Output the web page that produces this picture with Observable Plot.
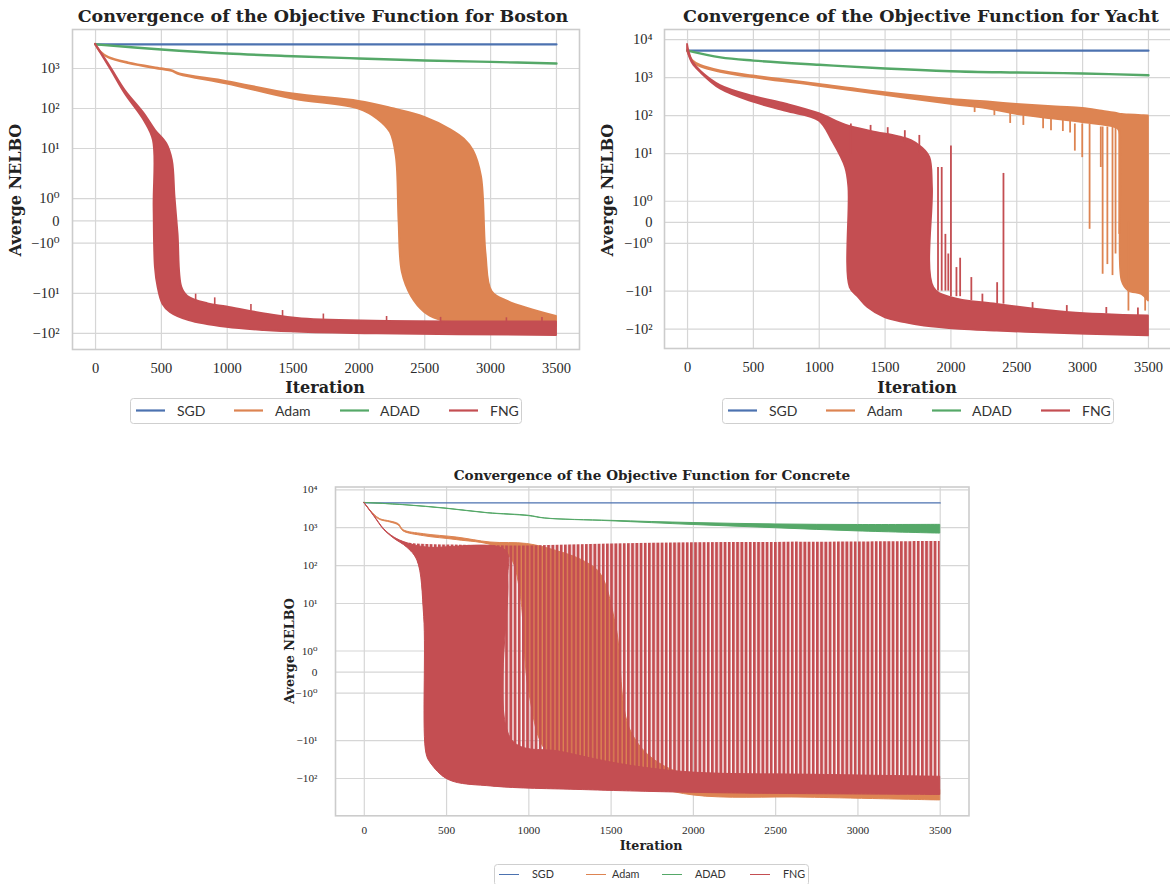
<!DOCTYPE html>
<html><head><meta charset="utf-8">
<script src="https://cdn.jsdelivr.net/npm/d3@7"></script>
<script src="https://cdn.jsdelivr.net/npm/@observablehq/plot@0.6"></script>
<style>
html,body{margin:0;padding:0;background:#fff;}
#fig{position:relative;width:1170px;height:884px;overflow:hidden;background:#fff;}
#fig svg{position:absolute;}
</style></head><body><div id="fig"></div>
<script>
// ---------- categories, colours, ticks ----------
const series = ["SGD", "Adam", "ADAD", "FNG"];
const colors = ["#4c72b0", "#dd8452", "#55a868", "#c44e52"];
const xTicks = [0, 500, 1000, 1500, 2000, 2500, 3000, 3500];
const yTicksBoston = [1000, 100, 10, 1, 0, -1, -10, -100];
const yLabelsBoston = ["10³", "10²", "10¹", "10⁰", "0", "−10⁰", "−10¹", "−10²"];
const yTicksOther = [10000, 1000, 100, 10, 1, 0, -1, -10, -100];
const yLabelsOther = ["10⁴", "10³", "10²", "10¹", "10⁰", "0", "−10⁰", "−10¹", "−10²"];
const titles = ["Convergence of the Objective Function for Boston",
                "Convergence of the Objective Function for Yacht",
                "Convergence of the Objective Function for Concrete"];

// ---------- Boston: [iteration, average NELBO]; upper/lower envelopes of oscillating runs ----------
const bostonSGD = [[0, 4000], [3500, 4000]];
const bostonADAD = [[0, 4000], [500, 2985], [1000, 2370], [1500, 2030], [2000, 1780], [2500, 1585], [3000, 1460], [3500, 1330]];
const bostonAdamUpper = [[0, 4000], [40, 2600], [100, 1900], [250, 1380], [500, 980], [580, 880], [640, 730], [1000, 470], [1500, 230], [2000, 150], [2250, 100], [2500, 60], [2700, 29], [2800, 17], [2870, 8.7], [2930, 2], [2965, -1.5], [3010, -9], [3130, -16], [3500, -38]];
const bostonAdamLower = [[0, 4000], [40, 2500], [100, 1850], [250, 1330], [500, 940], [580, 850], [640, 700], [1000, 412], [1500, 172], [2000, 97], [2140, 55], [2240, 25], [2285, 6], [2305, 0], [2330, -3], [2400, -12], [2500, -30], [2600, -45], [2710, -56], [3500, -68]];
const bostonFNGUpper = [[0, 4000], [120, 1000], [225, 282], [370, 73.5], [455, 28.2], [540, 13.1], [583, 5], [603, 1.07], [626, -0.58], [654, -7], [700, -12], [854, -18.4], [997, -22.1], [1283, -32.7], [1569, -43.6], [3500, -52.5]];
const bostonFNGLower = [[0, 4000], [120, 900], [225, 234], [370, 50], [440, 15.8], [445, 0.62], [455, -2.24], [475, -7], [511, -18.4], [569, -29.9], [711, -47.9], [997, -70.8], [1283, -85], [1569, -94], [2140, -103], [3500, -113]];
// [iteration, from, to] – isolated excursions above the FNG band
const bostonFNGSpikes = [[760, -16, -10.5], [905, -20, -13], [1180, -28, -19], [1420, -38, -27], [1730, -45, -33], [2210, -50, -38], [2620, -52, -40], [3120, -52, -41], [3390, -52, -40]];

// ---------- Yacht ----------
const yachtSGD = [[0, 5100], [3500, 5100]];
const yachtADAD = [[0, 5100], [250, 3400], [500, 2800], [1000, 2170], [1500, 1730], [2000, 1470], [2500, 1360], [3000, 1280], [3500, 1150]];
const yachtAdamUpper = [[0, 5100], [40, 2800], [100, 2100], [250, 1500], [500, 1100], [1000, 660], [1500, 400], [2000, 266], [2300, 225], [2500, 197], [2800, 168], [3000, 155], [3150, 130], [3250, 115], [3300, 107], [3350, 104], [3450, 100], [3500, 98]];
const yachtAdamLower = [[0, 5100], [40, 2600], [100, 1900], [250, 1380], [500, 990], [1000, 590], [1500, 340], [2000, 197], [2300, 146], [2500, 107], [2800, 79], [3000, 65], [3250, 48], [3280, 39], [3300, -5.4], [3350, -9.9], [3450, -12.3], [3500, -18.2]];
// [iteration, from, to]
const yachtAdamSpikes = [[2180, 170, 120], [2330, 150, 100], [2450, 120, 62], [2550, 105, 55], [2700, 85, 45], [2760, 82, 40], [2850, 75, 38], [2905, 72, 35], [2941, 60, 11.6], [2997, 60, 7.8], [3053, 60, -0.33], [3138, 50, 4.3], [3152, 50, -3.6], [3188, 50, -2.0], [3227, 50, -3.9], [3250, 50, -1.5], [3278, 45, -0.57], [3348, 0, -33.5], [3475, 0, -33.5]];
const yachtFNGUpper = [[0, 7500], [10, 5100], [40, 2600], [100, 1480], [250, 620], [500, 320], [750, 200], [1000, 112], [1200, 56], [1400, 38], [1600, 28], [1700, 22], [1780, 14.3], [1840, 7.8], [1860, 1.64], [1870, -8.1], [2000, -14.8], [2350, -22.4], [2900, -36.7], [3500, -45.2]];
const yachtFNGLower = [[0, 5100], [40, 2300], [100, 1349], [250, 500], [500, 225], [750, 128], [1000, 72], [1100, 21.4], [1200, 4.3], [1225, 1.64], [1235, -8.1], [1300, -14.8], [1370, -27.2], [1500, -50.1], [1650, -67.6], [1800, -83.2], [2070, -101], [2350, -112], [2630, -124], [3500, -151]];
const yachtFNGSpikes = [[1240, 10, 60], [1390, 30, 55], [1520, 25, 48], [1650, 20, 40], [1760, 10, 30], [1902, -10, 4.3], [1930, -10, 4.3], [1958, -10, -0.57], [1980, -10, -1.5], [2000, -14, 15.8], [2042, -14, -2.4], [2070, -14, -1.7], [2155, -18, -4.4], [2239, -20, -12], [2351, -22, -6], [2399, -22, 3], [2620, -30, -20], [2880, -36, -24], [3180, -40, -27], [3420, -44, -28]];

// ---------- Concrete ----------
const concreteSGD = [[0, 4520], [3500, 4520]];
const concreteADADUpper = [[0, 4520], [250, 3940], [500, 3200], [750, 2430], [1000, 2070], [1100, 1760], [1500, 1520], [2000, 1330], [2500, 1220], [3000, 1180], [3500, 1190]];
const concreteADADLower = [[0, 4520], [250, 3900], [500, 3150], [750, 2400], [1000, 2020], [1100, 1740], [1500, 1480], [2000, 1180], [2500, 970], [3000, 800], [3500, 700]];
const concreteAdamUpper = [[0, 4520], [57, 2290], [97, 1680], [158, 1460], [209, 1245], [239, 860], [361, 676], [564, 550], [767, 407], [990, 372], [1166, 245], [1329, 135], [1437, 60], [1532, 2.4], [1627, -6.5], [1872, -60], [2687, -135], [3500, -200]];
const concreteAdamLower = [[0, 4520], [57, 2200], [97, 1600], [158, 1380], [209, 1150], [239, 800], [361, 600], [564, 470], [785, 330], [894, 150], [948, 20], [1003, -1], [1111, -20], [1329, -50], [1600, -110], [2000, -280], [2687, -320], [3500, -380]];
const concreteFNGUpper = [[0, 4520], [60, 2070], [120, 920], [180, 560], [260, 400], [380, 360], [600, 345], [1000, 330], [1500, 370], [2000, 400], [2500, 410], [3000, 420], [3250, 425], [3500, 430]];
const concreteFNGLower = [[0, 4520], [60, 2000], [120, 880], [180, 520], [260, 300], [323, 135], [364, 4.4], [378, -22], [405, -40], [514, -110], [785, -164], [1329, -202], [2144, -245], [3500, -272]];
const concreteFNGDenseTop = [[0, 4520], [60, 2070], [120, 920], [180, 560], [260, 390], [380, 300], [860, 250], [875, 40], [900, -10], [1200, -20], [1600, -45], [2000, -70], [2750, -80], [3500, -90]];

// ---------- matplotlib symlog (linthresh 2, linscale 1, base 10) ----------
const LT = 2, LS = 1 / (1 - 1 / 10);
function T(v) { const a = Math.abs(v); return a <= LT ? v * LS : Math.sign(v) * LT * (LS + Math.log10(a / LT)); }
const X = d => d[0], Y = d => T(d[1]);
const GRID = "#d6d6d6", FRAME = "#cccccc";
const fig = document.getElementById("fig");

function line(data, c, w) { return Plot.line(data, {x: X, y: Y, stroke: c, strokeWidth: w, curve: "catmull-rom"}); }
function band(u, l, c, w, fill) {
  const rows = u.map((p, i) => ({xu: p[0], yu: T(p[1]), xl: l[i][0], yl: T(l[i][1])}));
  return Plot.area(rows, {x1: "xl", y1: "yl", x2: "xu", y2: "yu", fill: fill || c, stroke: w ? c : "none", strokeWidth: w || 0, strokeLinejoin: "round", curve: "catmull-rom"});
}
function spikes(data, c, w) { return Plot.ruleX(data, {x: d => d[0], y1: d => T(d[1]), y2: d => T(d[2]), stroke: c, strokeWidth: w}); }

function panel(o) {
  const tT = o.ticks.map(T);
  const fmt = new Map(tT.map((t, i) => [t, o.labels[i]]));
  const svg = Plot.plot({
    width: o.width, height: o.height,
    marginLeft: o.mL, marginRight: o.mR, marginTop: o.mT, marginBottom: o.mB,
    x: {domain: [-175, 3675]},
    y: {domain: o.yDomain},
    style: {background: "transparent", fontFamily: "'Liberation Serif', 'DejaVu Serif', serif", fontSize: o.fs + "px", color: "#2a2a2a", overflow: "visible"},
    marks: [
      Plot.gridX(xTicks, {stroke: GRID, strokeOpacity: 1, strokeWidth: 1.2}),
      Plot.gridY(tT, {stroke: GRID, strokeOpacity: 1, strokeWidth: 1.2}),
      Plot.frame({stroke: FRAME, strokeWidth: 1.6}),
      Plot.axisX(xTicks, {tickSize: 0, tickPadding: o.padX, tickFormat: d => String(d), label: null}),
      Plot.axisY(tT, {tickSize: 0, tickPadding: o.padY, tickFormat: d => fmt.get(d), label: null}),
      ...o.marks
    ]
  });
  svg.style.left = o.left + "px";
  svg.style.top = o.top + "px";
  fig.appendChild(svg);
  return svg;
}

// Boston
panel({left: 0, top: 0, width: 590, height: 400, mL: 72, mR: 11, mT: 29, mB: 51,
  yDomain: [-6.43, 9.57], ticks: yTicksBoston, labels: yLabelsBoston, fs: 14.5, padX: 13.5, padY: 13,
  marks: [
    line(bostonSGD, colors[0], 2.2),
    band(bostonAdamUpper, bostonAdamLower, colors[1], 2),
    line(bostonADAD, colors[2], 2.4),
    band(bostonFNGUpper, bostonFNGLower, colors[3], 2),
    spikes(bostonFNGSpikes, colors[3], 1.6)
  ]});

// Yacht
panel({left: 590, top: 0, width: 582, height: 400, mL: 74, mR: 1, mT: 29, mB: 52,
  yDomain: [-6.64, 10.15], ticks: yTicksOther, labels: yLabelsOther, fs: 14.5, padX: 13.5, padY: 12,
  marks: [
    line(yachtSGD, colors[0], 2.2),
    band(yachtAdamUpper, yachtAdamLower, colors[1], 1.8),
    spikes(yachtAdamSpikes, colors[1], 1.8),
    line(yachtADAD, colors[2], 2.4),
    band(yachtFNGUpper, yachtFNGLower, colors[3], 1.8),
    spikes(yachtFNGSpikes, colors[3], 1.8)
  ]});

// Concrete
const STRIPE_KEY = "#c44e53";
const cs = panel({left: 270, top: 460, width: 720, height: 400, mL: 65, mR: 21.5, mT: 26.5, mB: 44.7,
  yDomain: [-7.59, 9.77], ticks: yTicksOther, labels: yLabelsOther, fs: 11.3, padX: 10.4, padY: 18,
  marks: [
    line(concreteSGD, colors[0], 1.3),
    band(concreteAdamUpper, concreteAdamLower, colors[1], 1),
    band(concreteADADUpper, concreteADADLower, colors[2], 1),
    band(concreteFNGUpper, concreteFNGLower, colors[3], 0, STRIPE_KEY),
    band(concreteFNGDenseTop, concreteFNGLower, colors[3], 1)
  ]});
// vertical-stripe fill for the densely oscillating FNG envelope
const defs = d3.select(cs).insert("defs", ":first-child");
const pat = defs.append("pattern").attr("id", "fngStripes").attr("patternUnits", "userSpaceOnUse")
  .attr("width", 4.2).attr("height", 10);
pat.append("rect").attr("x", 0).attr("y", 0).attr("width", 2.9).attr("height", 10).attr("fill", colors[3]);
cs.querySelectorAll('[fill="' + STRIPE_KEY + '"]').forEach(el => el.setAttribute("fill", "url(#fngStripes)"));

// ---------- overlay: titles, axis labels, legends ----------
const ov = d3.create("svg").attr("width", 1170).attr("height", 884)
  .style("left", "0px").style("top", "0px").style("pointer-events", "none");
const SERIF_B = "'DejaVu Serif', serif";
function txt(x, y, s, size, opts = {}) {
  const t = ov.append("text").attr("x", x).attr("y", y).text(s)
    .attr("font-family", opts.family || SERIF_B).attr("font-weight", opts.weight || "bold")
    .attr("font-size", size).attr("fill", opts.fill || "#222")
    .attr("text-anchor", opts.anchor || "middle");
  if (opts.rotate) t.attr("transform", `rotate(-90 ${x} ${y})`);
  return t;
}
txt(323, 22, titles[0], 17.5);
txt(921, 22, titles[1], 17.5);
txt(652, 480, titles[2], 13.6);
txt(325, 392.5, "Iteration", 16);
txt(917, 392.5, "Iteration", 16);
txt(651, 850, "Iteration", 12.6);
txt(21, 190, "Averge NELBO", 16, {rotate: true});
txt(613, 190, "Averge NELBO", 16, {rotate: true});
txt(294, 651, "Averge NELBO", 12.8, {rotate: true});

function legend(x, y, w, h, lineX, textX, lineLen, cy, fs, sw) {
  ov.append("rect").attr("x", x).attr("y", y).attr("width", w).attr("height", h).attr("rx", 3)
    .attr("fill", "#fff").attr("stroke", "#cfcfcf").attr("stroke-width", 1);
  series.forEach((s, i) => {
    ov.append("line").attr("x1", lineX[i]).attr("x2", lineX[i] + lineLen).attr("y1", cy).attr("y2", cy)
      .attr("stroke", colors[i]).attr("stroke-width", sw);
    txt(textX[i], cy + fs * 0.36, s, fs, {family: "Lato, 'DejaVu Sans', sans-serif", weight: "normal", anchor: "start", fill: "#333"});
  });
}
legend(130.5, 398.5, 391, 25, [136, 234, 340, 449], [177, 275, 380, 490], 29, 410.5, 14, 2.2);
legend(722.5, 398.5, 391, 25, [728, 826, 932, 1041], [769, 867, 972, 1082], 29, 410.5, 14, 2.2);
legend(494.5, 864.5, 314, 21, [499, 586, 662, 750], [532, 612, 695, 783], 20, 874.5, 10.8, 1);

fig.appendChild(ov.node());
</script></body></html>
